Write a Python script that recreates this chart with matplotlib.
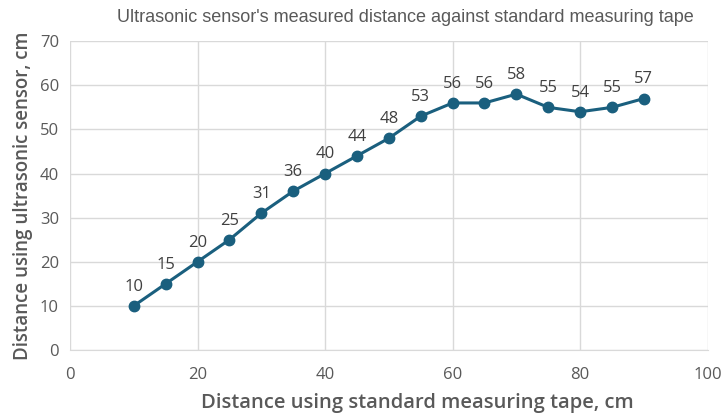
import matplotlib
matplotlib.use("Agg")
import matplotlib.pyplot as plt

tape_cm = [10, 15, 20, 25, 30, 35, 40, 45, 50, 55, 60, 65, 70, 75, 80, 85, 90]
sensor_cm = [10, 15, 20, 25, 31, 36, 40, 44, 48, 53, 56, 56, 58, 55, 54, 55, 57]

line_col = "#1a5f7e"
text_col = "#595959"

plt.rcParams['font.family'] = ['Open Sans', 'Liberation Sans', 'DejaVu Sans']

fig = plt.figure(figsize=(7.23, 4.19), dpi=100)
ax = fig.add_axes([0.0968, 0.1647, 0.882, 0.737])

ax.plot(tape_cm, sensor_cm, color=line_col, linewidth=2.2, marker="o", markersize=7.5)
for x, y in zip(tape_cm, sensor_cm):
    ax.annotate(str(y), (x, y), xytext=(0, 8), textcoords="offset points",
                ha="center", va="bottom", fontsize=12, color="#404040")

ax.set_xlim(0, 100)
ax.set_ylim(0, 70)
ax.set_xticks(range(0, 101, 20))
ax.set_yticks(range(0, 71, 10))
ax.grid(True, color="#d9d9d9", linewidth=1)
ax.set_axisbelow(True)
for s in ["top", "right", "left"]:
    ax.spines[s].set_visible(False)
ax.spines["bottom"].set_color("#d9d9d9")
ax.tick_params(length=0, labelsize=12, colors=text_col, pad=8)
ax.tick_params(axis="x", pad=12)

ax.set_xlabel("Distance using standard measuring tape, cm", fontsize=14.5,
              color=text_col, fontweight="semibold")
ax.xaxis.set_label_coords(0.544, -0.14)
ax.set_ylabel("Distance using ultrasonic sensor, cm", fontsize=13.5,
              color=text_col, fontweight="semibold", labelpad=5)
fig.text(0.56, 0.958, "Ultrasonic sensor's measured distance against standard measuring tape",
         ha="center", va="center", fontsize=13, color=text_col, fontstretch="condensed",
         family=["Liberation Sans Narrow", "Liberation Sans", "DejaVu Sans"])

fig.savefig("out.png", dpi=100)
